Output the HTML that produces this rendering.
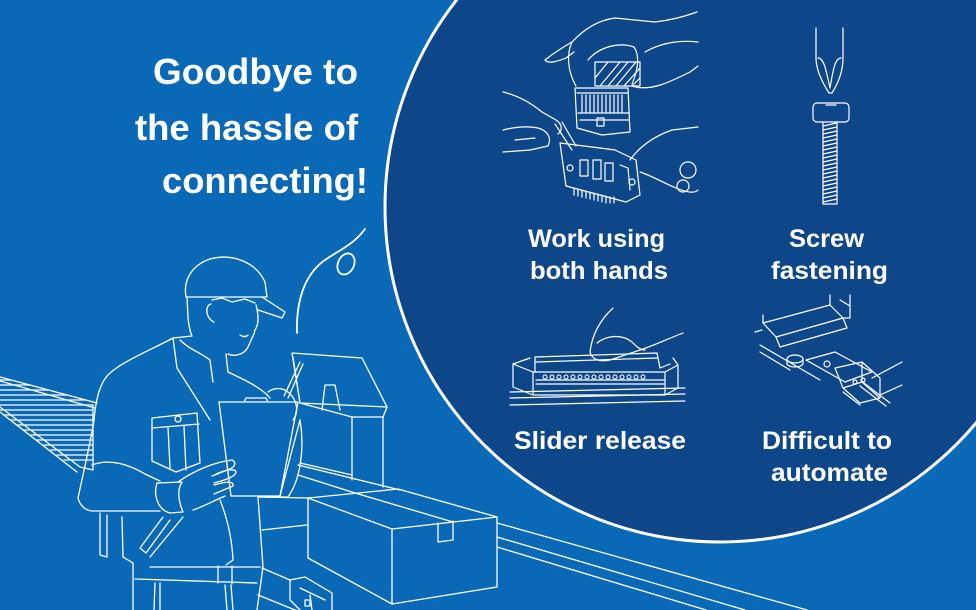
<!DOCTYPE html>
<html><head><meta charset="utf-8"><style>
html,body{margin:0;padding:0;background:#0a69b7;}
svg{display:block;}
text{font-family:"Liberation Sans",Arial,sans-serif;font-weight:bold;fill:#fff;}
</style></head><body>
<svg width="976" height="610" viewBox="0 0 976 610" xmlns="http://www.w3.org/2000/svg">
<rect width="976" height="610" fill="#0a69b7"/>

<!-- LEFT ILLUSTRATION -->
<g fill="none" stroke="#fff" stroke-width="1.3" stroke-linecap="round" stroke-linejoin="round">
 <!-- left conveyor -->
 <path d="M0,377 L97,403 M0,381 L95,408 M0,407 L80,467 M0,412 L77,472 M93,405 L93,470 M80,467 L93,470"/>
 <path d="M0,380 L11,380 M0,385 L30,385 M0,390 L48,390 M0,395 L67,395 M0,400 L86,400 M0,405 L93,405 M0,410 L93,410 M4,415 L93,415 M11,420 L93,420 M17,425 L93,425 M24,430 L93,430 M31,435 L93,435 M37,440 L93,440 M44,445 L93,445 M51,450 L93,450 M57,455 L93,455 M64,460 L93,460"/>
 <path d="M100,513 L100,555 L107,557 L107,515"/>
 <!-- cap -->
 <path d="M186,297 C183,280 192,265 210,259 C232,253 256,262 265,282 L267,297 Z"/>
 <path d="M262,297 L285,312 L282,318 L258,310"/>
 <!-- head -->
 <path d="M187,297 L188,318 C189,326 190,332 192,336"/>
 <path d="M212,300 L222,298 L232,302 L245,299 L255,303"/>
 <path d="M211,304 C205,305 205,318 214,322"/>
 <path d="M256,305 C259,316 259,324 255,330 L254,334 C250,341 249,348 244,352 C238,356 232,356 228,354"/>
 <path d="M240,335 C243,337 246,337 248,335"/>
 <path d="M226,354 L228,372"/>
 <!-- shoulders, body -->
 <path d="M192,336 L173,338 C155,348 125,360 110,373 C100,382 96,398 94,420 C90,445 84,470 78,498 C80,506 86,511 93,511 L160,511"/>
 <path d="M173,338 L177,368 L210,420 M180,340 C190,350 200,352 210,360 L213,382"/>
 <path d="M228,372 C245,380 262,388 270,398"/>
 <path d="M92,465 C110,458 130,465 145,474 L160,481"/>
 <!-- pocket -->
 <path d="M152,418 L197,413 L200,463 L176,472 L152,461 Z M152,428 L199,424 M168,427 L170,468 M184,426 L186,470"/>
 <circle cx="178" cy="419" r="3"/>
 <!-- clipboard -->
 <path d="M219,402 L298,402 L280,496 L231,496 Z"/>
 <path d="M244,402 L246,398 L266,398 L268,402"/>
 <!-- pen and writing hand -->
 <path d="M300,362 L284,396 M303,364 L288,398"/>
 <path d="M268,392 C276,386 286,388 292,396 C298,404 298,414 293,420"/>
 <!-- left hand on clipboard -->
 <path d="M157,483 C153,495 158,510 170,513 L183,512 C178,500 177,490 182,482 Z"/>
 <path d="M178,482 C195,470 215,462 232,460 C236,462 236,466 230,469 L212,476 M216,474 C225,470 235,468 236,472 C236,476 226,480 214,483 M214,485 C225,482 234,480 233,486 L214,494 M193,510 C205,506 215,500 225,496"/>
 <!-- strap -->
 <path d="M163,517 L140,548 L146,553 L170,520 M183,517 L150,557"/>
 <!-- lower body -->
 <path d="M122,517 L123,557 L133,563 L133,610 M258,497 L263,567 L257,610"/>
 <path d="M220,500 C228,520 232,540 233,560 L226,565"/>
 <path d="M150,567 L260,567 M135,579 L257,583 M218,566 L218,583 M232,566 L232,584"/>
 <path d="M155,583 L154,610 M160,583 L160,610 M225,585 L227,610 M231,585 L233,610"/>
 <path d="M280,496 L300,420 M300,420 C305,450 300,480 288,497 L258,497"/>
 <!-- machine -->
 <path d="M292,353 L362,358 L387,407 L300,403 Z M293,357 L300,403"/>
 <path d="M322,410 L325,385 L335,385 L340,410"/>
 <path d="M300,403 L352,417 L383,417 L387,407 M352,417 L352,480 M383,417 L383,487"/>
 <!-- conveyor under -->
 <path d="M298,465 L400,490 M298,475 L355,493 M300,463 L352,475 M260,497 L308,498"/>
 <path d="M497,523 L807,610 M497,537 L745,610 M497,547 L706,610"/>
 <path d="M262,530 L307,525 M262,568 L290,580 M258,595 L300,612"/>
 <!-- box -->
 <path d="M308,498 L398,489 L497,517 L392,529 Z M308,498 L308,558 L392,604 L392,529 M392,604 L497,587 L497,517"/>
 <path d="M355,493 L453,522 M438,523 L438,542 L453,540 L453,521"/>
 <!-- device bottom -->
 <path d="M290,580 L290,600 L300,610 M290,580 L305,577 L332,593 L332,610 M300,588 L325,600 M310,595 L312,610"/>
 <rect x="305" y="600" width="5" height="6"/>
 <!-- curl -->
 <path d="M297,333 C296,300 305,272 328,258 C340,250 354,244 365,229" stroke-width="1.8"/>
 <ellipse cx="346" cy="264" rx="8" ry="11" transform="rotate(25 346 264)" stroke-width="1.8"/>
</g>

<!-- CIRCLE -->
<circle cx="720" cy="207" r="335" fill="#0e4789" stroke="#fff" stroke-width="3"/>

<!-- ICONS -->
<g fill="none" stroke="#fff" stroke-width="1.2" stroke-linecap="round" stroke-linejoin="round">
 <!-- icon 1: hands -->
 <path d="M545,60 C555,52 565,46 572,42 C585,28 600,20 615,18 L655,22 C672,20 686,16 697,12"/>
 <path d="M545,60 C548,64 556,62 566,58 L574,52"/>
 <path d="M572,42 C566,55 568,72 576,86"/>
 <path d="M588,60 C600,46 620,42 634,47 C640,56 638,70 632,84"/>
 <path d="M632,86 C650,92 670,82 690,72 L698,66 M645,52 C662,42 682,40 698,42"/>
 <path d="M595,62 L640,62 L640,86 L595,86 Z M600,86 L620,62 M608,86 L628,62 M616,86 L636,62 M624,86 L640,68 M632,86 L640,78 M595,78 L608,62"/>
 <path d="M575,88 L628,88 L630,132 L602,135 L577,128 Z M577,93 L628,93 M578,113 L629,113 M580,120 L629,120"/>
 <path d="M582,95 L582,112 M586,95 L586,112 M590,95 L590,112 M594,95 L594,112 M598,95 L598,112 M602,95 L602,112 M606,95 L606,112 M610,95 L610,112 M614,95 L614,112 M618,95 L618,112 M622,95 L622,112"/>
 <rect x="597" y="118" width="7" height="8"/>
 <path d="M503,92 C516,95 530,102 542,112 L556,120 C562,124 563,130 558,134"/>
 <path d="M503,130 C515,127 528,126 538,128 C548,131 552,138 548,146 L530,150 L503,152"/>
 <path d="M515,140 L535,138 M555,124 L572,150 M562,122 L576,146"/>
 <path d="M560,143 L600,148 L615,150 L636,160 L640,195 L626,202 L566,186 Z M580,160 L588,160 L588,176 L580,176 Z M593,160 L601,160 L601,179 L593,179 Z M605,163 L613,163 L613,181 L605,181 Z M620,165 L628,168 L630,190"/>
 <path d="M574,188 L574,195 M578,189 L578,196 M582,190 L582,197 M586,191 L586,198 M590,192 L590,199 M594,193 L594,200 M598,194 L598,201 M602,195 L602,202 M606,196 L606,203 M610,197 L610,203 M614,197 L614,203"/>
 <circle cx="570" cy="168" r="3"/><circle cx="632" cy="182" r="3"/>
 <path d="M630,160 C640,146 655,136 672,130 L698,127"/>
 <path d="M640,172 C652,176 662,182 676,188 C686,192 694,194 698,190"/>
 <circle cx="688" cy="170" r="8"/><circle cx="683" cy="186" r="6"/>
 <!-- icon 2: screw -->
 <path d="M816,28 L816,58 C816,70 822,82 829,93 L832,93 C839,82 843,70 843,58 L843,28"/>
 <path d="M818,58 C824,58 826,70 830,88 M841,58 C835,58 833,70 830,88"/>
 <rect x="813" y="103" width="36" height="19" rx="4"/>
 <path d="M826,105 L836,105"/>
 <path d="M823,122 L823,204 L837,204 L837,122"/>
 <path d="M823,126 L837,123 M823,130 L837,127 M823,134 L837,131 M823,138 L837,135 M823,142 L837,139 M823,146 L837,143 M823,150 L837,147 M823,154 L837,151 M823,158 L837,155 M823,162 L837,159 M823,166 L837,163 M823,170 L837,167 M823,174 L837,171 M823,178 L837,175 M823,182 L837,179 M823,186 L837,183 M823,190 L837,187 M823,194 L837,191 M823,198 L837,195 M823,202 L837,199"/>
 <!-- icon 3: slider -->
 <path d="M513,364 L533,372 L533,395 L513,387 Z M533,372 L665,372 L665,395 L533,395 M665,372 L678,365 L678,388 L665,395 M513,364 L530,358 M673,358 L678,365"/>
 <path d="M535,357 L535,372 M535,357 L657,353 L660,368 M536,362 L657,358 M660,368 L670,364"/>
 <path d="M536,380 L664,380 M536,384 L664,384"/>
 <g stroke-width="1"><circle cx="545" cy="377" r="2"/><circle cx="552" cy="377" r="2"/><circle cx="559" cy="377" r="2"/><circle cx="566" cy="377" r="2"/><circle cx="573" cy="377" r="2"/><circle cx="580" cy="377" r="2"/><circle cx="587" cy="377" r="2"/><circle cx="594" cy="377" r="2"/><circle cx="601" cy="377" r="2"/><circle cx="608" cy="377" r="2"/><circle cx="615" cy="377" r="2"/><circle cx="622" cy="377" r="2"/><circle cx="629" cy="377" r="2"/><circle cx="636" cy="377" r="2"/><circle cx="643" cy="377" r="2"/></g>
 <path d="M613,308 C600,320 592,335 590,352 C592,360 600,362 610,360 L640,350 C655,345 665,340 683,333"/>
 <path d="M597,343 C607,335 622,334 632,342 C636,346 640,350 645,350"/>
 <path d="M510,392 L685,388 M510,398 L685,394 M510,405 L685,401"/>
 <!-- icon 4: automate -->
 <path d="M763,323 L830,305 L843,318 L776,337 Z M776,337 L780,347 L847,328 L843,318"/>
 <path d="M830,305 L830,295 M850,306 L850,295 M843,318 L850,318 L850,306 M840,300 L850,306"/>
 <path d="M763,323 L763,315 M762,330 L755,332 M760,345 L820,380 M760,352 L790,370"/>
 <ellipse cx="795" cy="359" rx="8" ry="4"/>
 <path d="M787,359 L787,364 C790,368 800,368 803,364 L803,359"/>
 <path d="M806,360 L835,352 L872,372 L845,382 Z"/>
 <circle cx="827" cy="364" r="3"/>
 <path d="M835,368 L862,362 L880,378 L880,398 L860,403 L843,388 Z M843,388 L862,382 L880,398 M862,382 L862,362"/>
 <circle cx="855" cy="382" r="2"/><circle cx="863" cy="380" r="2"/>
 <path d="M860,386 L886,406 M864,383 L890,403"/>
 <path d="M872,378 L902,362 M880,395 L902,385 M843,392 L860,405"/>
</g>

<!-- TEXT -->
<text x="153" y="84" font-size="36" textLength="205" lengthAdjust="spacingAndGlyphs">Goodbye to</text>
<text x="135" y="140" font-size="36" textLength="223" lengthAdjust="spacingAndGlyphs">the hassle of</text>
<text x="162" y="193" font-size="36" textLength="206" lengthAdjust="spacingAndGlyphs">connecting!</text>

<text x="528" y="247" font-size="25" textLength="137" lengthAdjust="spacingAndGlyphs">Work using</text>
<text x="530" y="279" font-size="25" textLength="138" lengthAdjust="spacingAndGlyphs">both hands</text>
<text x="789" y="247" font-size="25" textLength="75" lengthAdjust="spacingAndGlyphs">Screw</text>
<text x="771" y="279" font-size="25" textLength="117" lengthAdjust="spacingAndGlyphs">fastening</text>
<text x="514" y="449" font-size="25" textLength="172" lengthAdjust="spacingAndGlyphs">Slider release</text>
<text x="762" y="449" font-size="25" textLength="130" lengthAdjust="spacingAndGlyphs">Difficult to</text>
<text x="771" y="481" font-size="25" textLength="117" lengthAdjust="spacingAndGlyphs">automate</text>
</svg>
</body></html>
